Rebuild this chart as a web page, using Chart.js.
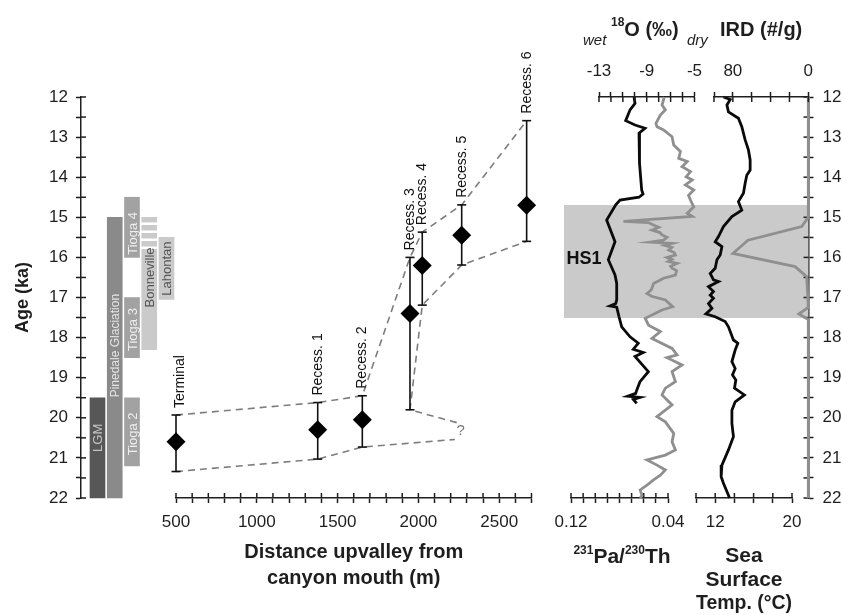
<!DOCTYPE html>
<html><head><meta charset="utf-8">
<script src="https://cdn.jsdelivr.net/npm/chart.js@4"></script>
<style>
html,body{margin:0;padding:0;background:#fff;}
#wrap{position:relative;width:842px;height:615px;overflow:hidden;background:#fff;}
#wrap canvas{position:absolute;left:0;top:0;}
</style></head><body>
<div id="wrap">
<canvas id="cB" width="842" height="615"></canvas>
<canvas id="cL" width="842" height="615"></canvas>
<canvas id="cM" width="842" height="615"></canvas>
<canvas id="cP1a" width="842" height="615"></canvas>
<canvas id="cP1b" width="842" height="615"></canvas>
<canvas id="cP2a" width="842" height="615"></canvas>
<canvas id="cP2b" width="842" height="615"></canvas>
</div>
<script>
// ---------------- DATA ----------------
// Stratigraphic units (ka)
const stratUnits  = ['LGM','Pinedale Glaciation','Tioga 4','Tioga 3','Tioga 2','Bonneville','Lahontan'];
const stratColumn = [1,2,3,3,3,4,5];
const stratStart  = [19.5,15.0,14.5,17.0,19.5,15.8,15.5];
const stratEnd    = [22.0,22.0,16.0,18.5,21.2,18.3,17.05];
const stratLabelAt = [20.5,18.2,15.4,17.8,20.4,16.5,16.28];
const bonnevilleDashStart = [15.0,15.2,15.4,15.6];
const bonnevilleDashEnd   = [15.12,15.32,15.52,15.72];

// Moraine ages
const recessNames = ['Terminal','Recess. 1','Recess. 2','Recess. 3','Recess. 4','Recess. 5','Recess. 6'];
const recessDist  = [500,1377,1653,1948,2024,2268,2670];
const recessAge   = [20.6,20.3,20.05,17.4,16.2,15.45,14.7];
const recessAgeYoung = [19.93,19.62,19.45,16.0,15.37,14.69,12.59];
const recessAgeOld   = [21.34,21.03,20.73,19.8,17.19,16.19,15.6];
const questionDist = [2226,2237];
const questionAge  = [20.54,20.12];
const distLabels = [500,1000,1500,2000,2500];

// Heinrich Stadial 1
const hs1Start = 14.7, hs1End = 17.5;

// 231Pa/230Th
const paThAge = [12.0,12.16,12.32,12.59,12.70,12.78,12.90,13.15,13.65,14.32,14.42,14.50,14.57,14.69,15.07,15.40,15.61,16.06,16.44,16.65,17.06,17.15,17.21,17.24,17.48,17.73,17.98,18.14,18.29,18.37,18.47,18.85,19.10,19.31,19.39,19.46,19.49,19.54,19.64];
const paTh    = [0.0680,0.0672,0.0713,0.0749,0.0672,0.0590,0.0639,0.0639,0.0631,0.0617,0.0606,0.0639,0.0796,0.0831,0.0906,0.0864,0.0837,0.0892,0.0837,0.0823,0.0823,0.0831,0.0878,0.0823,0.0804,0.0782,0.0713,0.0645,0.0686,0.0604,0.0672,0.0562,0.0631,0.0658,0.0666,0.0732,0.0631,0.0686,0.0658];
const paThLabels = [0.12,0.04];

// d18O
const d18OAge = [12.0,12.2,12.32,12.45,12.66,12.74,12.82,12.99,13.2,13.36,13.53,13.61,13.74,13.86,13.99,14.07,14.19,14.32,14.45,14.57,14.74,14.9,14.98,15.1,15.13,15.2,15.25,15.32,15.38,15.44,15.5,15.57,15.62,15.65,15.7,15.75,15.82,15.88,15.94,16.0,16.05,16.1,16.15,16.22,16.27,16.33,16.44,16.52,16.65,16.81,16.9,16.97,17.06,17.23,17.31,17.52,17.69,17.85,18.02,18.27,18.43,18.5,18.68,18.85,19.1,19.26,19.43,19.68,19.97,20.1,20.39,20.6,20.8,20.93,21.05,21.18,21.3,21.43,21.55,21.68,21.8,21.93,22.0];
const d18O    = [-7.53,-7.72,-7.44,-7.86,-8.23,-8.14,-7.59,-6.88,-6.74,-6.18,-6.32,-5.61,-6.04,-5.34,-5.70,-5.19,-5.76,-5.06,-5.5,-5.34,-5.06,-5.61,-5.19,-10.95,-8.85,-8.4,-8.0,-8.56,-7.9,-7.72,-7.3,-7.59,-8.71,-6.88,-7.5,-6.9,-7.16,-6.7,-6.60,-7.3,-6.9,-7.2,-6.46,-7.0,-6.88,-6.5,-6.60,-7.59,-8.43,-8.62,-8.98,-8.6,-7.44,-6.83,-7.72,-9.13,-8.85,-7.86,-8.56,-6.88,-6.46,-7.3,-6.04,-6.88,-6.60,-7.44,-7.72,-6.88,-8.14,-7.44,-6.74,-6.88,-6.60,-7.44,-8.98,-8.14,-7.44,-7.86,-8.43,-8.98,-9.55,-9.40,-9.55];
const d18OLabels = [-13,-9,-5];

// Sea surface temperature
const sstAge = [12.0,12.06,12.2,12.37,12.53,12.74,13.07,13.32,13.57,13.82,13.95,14.15,14.4,14.61,14.82,14.98,15.23,15.48,15.61,15.73,15.94,16.06,16.27,16.4,16.56,16.6,16.73,16.85,16.94,17.02,17.15,17.27,17.41,17.48,17.6,17.73,18.06,18.14,18.31,18.6,18.77,18.93,19.06,19.26,19.43,19.6,19.81,20.14,20.47,20.8,21.18,21.47,21.63,21.93,22.0];
const sst    = [12.86,13.56,13.22,13.38,14.42,14.77,15.12,15.46,15.64,15.64,15.29,15.12,14.94,14.42,14.77,13.74,12.86,12.34,12.0,12.70,12.52,12.18,12.0,11.48,11.82,12.34,11.30,11.82,11.48,11.82,11.30,11.66,11.03,12.0,13.04,13.38,13.90,14.36,14.08,13.74,14.08,13.80,14.15,14.01,15.04,14.08,13.74,13.74,13.90,13.38,12.70,12.62,12.86,13.38,13.49];
const sstLabels = [12,20];

// Ice-rafted debris
const irdAge = [12.0,14.6,15.0,15.23,15.57,15.9,16.23,16.48,17.25,17.41,17.55,22.0];
const ird    = [0,0,0,7,64,80,14,1.7,0,10,0,0];
const irdLabels = [80,0];

const ageLabels = [12,13,14,15,16,17,18,19,20,21,22];

// ---------------- STYLE ----------------
const FONT = '"Liberation Sans", Arial, Helvetica, sans-serif';
Chart.defaults.font.family = FONT;
Chart.defaults.color = '#222';
Chart.defaults.animation = false;
const INK = '#1e1e1e';
const stratFill = ['#575757','#8a8a8a','#a2a2a2','#a2a2a2','#a2a2a2','#cacaca','#cacaca'];
const stratText = ['#c4c4c4','#e6e6e6','#eeeeee','#eeeeee','#eeeeee','#555555','#555555'];
const stratFont = [13,12,13,13,13,13,13];
const dashFill = '#cacaca';

const near = (a, list) => list.some(v => Math.abs(v - a) < 1e-6);

function crossTicks(ids, len) {
  return {
    id: 'crossTicks',
    afterDraw(chart) {
      const ctx = chart.ctx;
      ctx.save();
      ctx.strokeStyle = INK; ctx.lineWidth = 1.5;
      ids.forEach(id => {
        const s = chart.scales[id];
        const pos = s.options.position;
        s.ticks.forEach((t, i) => {
          const p = s.getPixelForTick(i);
          ctx.beginPath();
          if (pos === 'bottom') { ctx.moveTo(p, s.top); ctx.lineTo(p, s.top - len); }
          else if (pos === 'top') { ctx.moveTo(p, s.bottom); ctx.lineTo(p, s.bottom + len); }
          else if (pos === 'left') { ctx.moveTo(s.right, p); ctx.lineTo(s.right + len, p); }
          else { ctx.moveTo(s.left, p); ctx.lineTo(s.left - len, p); }
          ctx.stroke();
        });
      });
      ctx.restore();
    }
  };
}

function textPlugin(items) {
  return {
    id: 'texts',
    afterDraw(chart) {
      const ctx = chart.ctx;
      items.forEach(it => {
        ctx.save();
        ctx.fillStyle = it.color || INK;
        ctx.textBaseline = 'alphabetic';
        ctx.textAlign = 'left';
        const widths = it.parts.map(p => { ctx.font = p.font; return ctx.measureText(p.text).width; });
        const total = widths.reduce((a, b, i) => a + b + (it.parts[i].gap || 0), 0);
        let x = it.align === 'center' ? it.x - total / 2 : it.x;
        it.parts.forEach((p, i) => {
          ctx.font = p.font;
          ctx.fillText(p.text, x + (p.dx || 0), it.y + (p.dy || 0));
          x += widths[i] + (p.gap || 0);
        });
        ctx.restore();
      });
    }
  };
}

const hiddenAge = { type: 'linear', reverse: true, min: 12, max: 22, display: false };
function axisCommon(extra) {
  return Object.assign({
    border: { display: true, color: INK, width: 1.5 },
    grid: { drawOnChartArea: false, tickLength: 5, tickColor: INK, tickWidth: 1.5, color: INK },
  }, extra);
}
const baseOpts = (padding, scales, plugins) => ({
  responsive: false, animation: false, devicePixelRatio: 1,
  layout: { padding },
  plugins: Object.assign({ legend: { display: false }, tooltip: { enabled: false } }, plugins || {}),
  scales
});

// ---------------- CHART B : HS1 band + right age axis ----------------
new Chart(document.getElementById('cB'), {
  type: 'bar',
  data: { labels: ['HS1'], datasets: [{ data: [[hs1Start, hs1End]], backgroundColor: '#cacaca', barPercentage: 1, categoryPercentage: 1 }] },
  options: baseOpts({ left: 564, right: 0, top: 97, bottom: 117 }, {
    x: { type: 'category', display: false },
    y: axisCommon({
      type: 'linear', reverse: true, min: 12, max: 22, position: 'right',
      afterFit: s => { s.width = 33.5; },
      ticks: { stepSize: 0.5, autoSkip: false, maxTicksLimit: 100, padding: 9, color: INK, font: { size: 17 },
        callback: v => near(v, ageLabels) ? String(Math.round(v)) : '' }
    })
  }),
  plugins: [crossTicks(['y'], 5), {
    id: 'hs1label',
    afterDatasetsDraw(chart) {
      const { ctx, chartArea, scales: { y } } = chart;
      ctx.save();
      ctx.font = 'bold 18px ' + FONT; ctx.fillStyle = '#111';
      ctx.textAlign = 'center'; ctx.textBaseline = 'middle';
      ctx.fillText('HS1', chartArea.left + 20, y.getPixelForValue(16.05));
      ctx.restore();
    }
  }]
});

// ---------------- CHART L : stratigraphy + left age axis ----------------
const bonnevilleCol = stratColumn[stratUnits.indexOf('Bonneville')];
const stratBars = stratUnits.map((n, i) => ({ x: stratColumn[i], y: [stratStart[i], stratEnd[i]] }))
  .concat(bonnevilleDashStart.map((s, i) => ({ x: bonnevilleCol, y: [s, bonnevilleDashEnd[i]] })));
const stratBarFill = stratFill.concat(bonnevilleDashStart.map(() => dashFill));

new Chart(document.getElementById('cL'), {
  type: 'bar',
  data: { datasets: [
    { data: stratBars, backgroundColor: stratBarFill, barThickness: 15, clip: false }
  ]},
  options: baseOpts({ left: 0, right: 664, top: 97, bottom: 117 }, {
    x: { type: 'linear', offset: false, display: false, min: 0.0435, max: 5.667 },
    y: axisCommon({
      type: 'linear', reverse: true, min: 12, max: 22, position: 'left',
      afterFit: s => { s.width = 81; },
      ticks: { stepSize: 0.5, autoSkip: false, maxTicksLimit: 100, padding: 8, color: INK, font: { size: 17 },
        callback: v => near(v, ageLabels) ? String(Math.round(v)) : '' },
      title: { display: true, text: 'Age (ka)', color: INK, font: { size: 18, weight: 'bold' }, padding: { top: 12, bottom: 0 } }
    })
  }),
  plugins: [crossTicks(['y'], 5), {
    id: 'stratLabels',
    afterDatasetsDraw(chart) {
      const ctx = chart.ctx, y = chart.scales.y;
      const bars = chart.getDatasetMeta(0).data;
      stratUnits.forEach((name, i) => {
        const b = bars[i];
        ctx.save();
        ctx.translate(b.x, y.getPixelForValue(stratLabelAt[i]));
        ctx.rotate(-Math.PI / 2);
        ctx.font = stratFont[i] + 'px ' + FONT;
        ctx.fillStyle = stratText[i];
        ctx.textAlign = 'center'; ctx.textBaseline = 'middle';
        ctx.fillText(name, 0, 1);
        ctx.restore();
      });
    }
  }]
});

// ---------------- CHART M : moraine ages vs distance ----------------
const pt = i => ({ x: recessDist[i], y: recessAgeOld[i] });
const upperEnv = recessDist.map((d, i) => ({ x: d, y: recessAgeYoung[i] }));
const lowerEnv = [pt(0), pt(1), pt(2),
  { x: questionDist[0], y: questionAge[0] }, { x: questionDist[0], y: null }, { x: questionDist[1], y: questionAge[1] },
  pt(3), pt(4), pt(5), pt(6)];
const errBars = [];
recessDist.forEach((d, i) => { errBars.push({ x: d, y: recessAgeYoung[i] }, { x: d, y: recessAgeOld[i] }, { x: d, y: null }); });

new Chart(document.getElementById('cM'), {
  type: 'line',
  data: { datasets: [
    { data: recessDist.map((d, i) => ({ x: d, y: recessAge[i] })), showLine: false, pointStyle: 'rectRot',
      pointRadius: 9.5, pointBackgroundColor: '#000', pointBorderWidth: 0, order: 0, clip: false },
    { data: errBars, borderColor: '#111', borderWidth: 1.6, pointStyle: 'line', pointRadius: 4.5,
      pointBorderColor: '#111', pointBorderWidth: 1.6, spanGaps: false, order: 1, clip: false },
    { data: upperEnv, borderColor: '#7d7d7d', borderWidth: 1.6, borderDash: [7, 5], pointRadius: 0, order: 2, clip: false },
    { data: lowerEnv, borderColor: '#7d7d7d', borderWidth: 1.6, borderDash: [7, 5], pointRadius: 0, spanGaps: false, order: 2, clip: false }
  ]},
  options: baseOpts({ left: 176, right: 310.5, top: 97, bottom: 0 }, {
    x: axisCommon({
      type: 'linear', min: 500, max: 2700, position: 'bottom',
      afterFit: s => { s.height = 117; },
      ticks: { stepSize: 100, autoSkip: false, maxTicksLimit: 100, maxRotation: 0, minRotation: 0, padding: 9.5, color: INK, font: { size: 17 },
        callback: v => near(v, distLabels) ? String(Math.round(v)) : '' },
      title: { display: true, text: ['Distance upvalley from', 'canyon mouth (m)'], color: INK,
        font: { size: 20, weight: 'bold', lineHeight: 1.3 }, padding: { top: 0, bottom: 24 } }
    }),
    y: hiddenAge
  }),
  plugins: [crossTicks(['x'], 5), {
    id: 'recessLabels',
    afterDatasetsDraw(chart) {
      const { ctx, scales: { x, y } } = chart;
      ctx.save();
      ctx.font = '14px ' + FONT; ctx.fillStyle = '#111';
      recessNames.forEach((n, i) => {
        ctx.save();
        ctx.translate(x.getPixelForValue(recessDist[i]) + (i === 0 ? 4 : 0), y.getPixelForValue(recessAgeYoung[i]) - 7);
        ctx.rotate(-Math.PI / 2);
        ctx.textAlign = 'left'; ctx.textBaseline = 'middle';
        ctx.fillText(n, 0, 0);
        ctx.restore();
      });
      ctx.font = '15px ' + FONT; ctx.fillStyle = '#777';
      ctx.textAlign = 'center'; ctx.textBaseline = 'middle';
      ctx.fillText('?', x.getPixelForValue((questionDist[0] + questionDist[1]) / 2) + 5, y.getPixelForValue((questionAge[0] + questionAge[1]) / 2));
      ctx.restore();
    }
  }]
});

// ---------------- PANEL 1a : Pa/Th (bottom axis) ----------------
new Chart(document.getElementById('cP1a'), {
  type: 'line',
  data: { datasets: [{ data: paTh.map((v, i) => ({ x: v, y: paThAge[i] })), borderColor: '#0a0a0a', borderWidth: 2.8, pointRadius: 0, clip: false }] },
  options: baseOpts({ left: 571, right: 174, top: 97, bottom: 0 }, {
    x: axisCommon({
      type: 'linear', reverse: true, min: 0.04, max: 0.12, position: 'bottom',
      afterFit: s => { s.height = 117; },
      ticks: { stepSize: 0.01, autoSkip: false, maxTicksLimit: 100, maxRotation: 0, minRotation: 0, padding: 9.5, color: INK, font: { size: 17 },
        callback: v => near(v, paThLabels) ? v.toFixed(2) : '' }
    }),
    y: hiddenAge
  }),
  plugins: [crossTicks(['x'], 5), textPlugin([
    { x: 622, y: 563, align: 'center', parts: [
      { text: '231', font: 'bold 12px ' + FONT, dy: -9 },
      { text: 'Pa/', font: 'bold 21px ' + FONT },
      { text: '230', font: 'bold 12px ' + FONT, dy: -9 },
      { text: 'Th', font: 'bold 21px ' + FONT }
    ]}
  ])]
});

// ---------------- PANEL 1b : d18O (top axis) ----------------
new Chart(document.getElementById('cP1b'), {
  type: 'line',
  data: { datasets: [{ data: d18O.map((v, i) => ({ x: v, y: d18OAge[i] })), borderColor: '#8f8f8f', borderWidth: 2.8, pointRadius: 0, clip: false }] },
  options: baseOpts({ left: 599, right: 147.5, top: 0, bottom: 117 }, {
    x: axisCommon({
      type: 'linear', min: -13, max: -5, position: 'top',
      afterFit: s => { s.height = 97; },
      ticks: { stepSize: 1, autoSkip: false, maxTicksLimit: 100, maxRotation: 0, minRotation: 0, padding: 10, color: INK, font: { size: 17 },
        callback: v => near(v, d18OLabels) ? String(Math.round(v)) : '' }
    }),
    y: hiddenAge
  }),
  plugins: [crossTicks(['x'], 5), textPlugin([
    { x: 583, y: 45, parts: [{ text: 'wet', font: 'italic 15px ' + FONT }] },
    { x: 611, y: 36, parts: [
      { text: '18', font: 'bold 12px ' + FONT, dy: -10 },
      { text: 'O (\u2030)', font: 'bold 20px ' + FONT }
    ]},
    { x: 687, y: 45, parts: [{ text: 'dry', font: 'italic 15px ' + FONT }] }
  ])]
});

// ---------------- PANEL 2a : SST (bottom axis) ----------------
new Chart(document.getElementById('cP2a'), {
  type: 'line',
  data: { datasets: [{ data: sst.map((v, i) => ({ x: v, y: sstAge[i] })), borderColor: '#0a0a0a', borderWidth: 2.8, pointRadius: 0, clip: false }] },
  options: baseOpts({ left: 696, right: 50, top: 97, bottom: 0 }, {
    x: axisCommon({
      type: 'linear', min: 10, max: 20, position: 'bottom',
      afterFit: s => { s.height = 117; },
      ticks: { stepSize: 2, autoSkip: false, maxTicksLimit: 100, maxRotation: 0, minRotation: 0, padding: 9.5, color: INK, font: { size: 17 },
        callback: v => near(v, sstLabels) ? String(Math.round(v)) : '' },
      title: { display: true, text: ['Sea', 'Surface', 'Temp. (\u00B0C)'], color: INK,
        font: { size: 21, weight: 'bold', lineHeight: 1.12 }, padding: { top: 0, bottom: 0 } }
    }),
    y: hiddenAge
  }),
  plugins: [crossTicks(['x'], 5)]
});

// ---------------- PANEL 2b : IRD (top axis) ----------------
new Chart(document.getElementById('cP2b'), {
  type: 'line',
  data: { datasets: [{ data: ird.map((v, i) => ({ x: v, y: irdAge[i] })), borderColor: '#8f8f8f', borderWidth: 2.8, pointRadius: 0, clip: false }] },
  options: baseOpts({ left: 714, right: 33.7, top: 0, bottom: 117 }, {
    x: axisCommon({
      type: 'linear', reverse: true, min: 0, max: 100, position: 'top',
      afterFit: s => { s.height = 97; },
      ticks: { stepSize: 20, autoSkip: false, maxTicksLimit: 100, maxRotation: 0, minRotation: 0, padding: 10, color: INK, font: { size: 17 },
        callback: v => near(v, irdLabels) ? String(Math.round(v)) : '' },
      title: { display: true, text: 'IRD (#/g)', color: INK, font: { size: 20, weight: 'bold' }, padding: { top: 18, bottom: 0 } }
    }),
    y: hiddenAge
  }),
  plugins: [crossTicks(['x'], 5)]
});
</script>
</body></html>
